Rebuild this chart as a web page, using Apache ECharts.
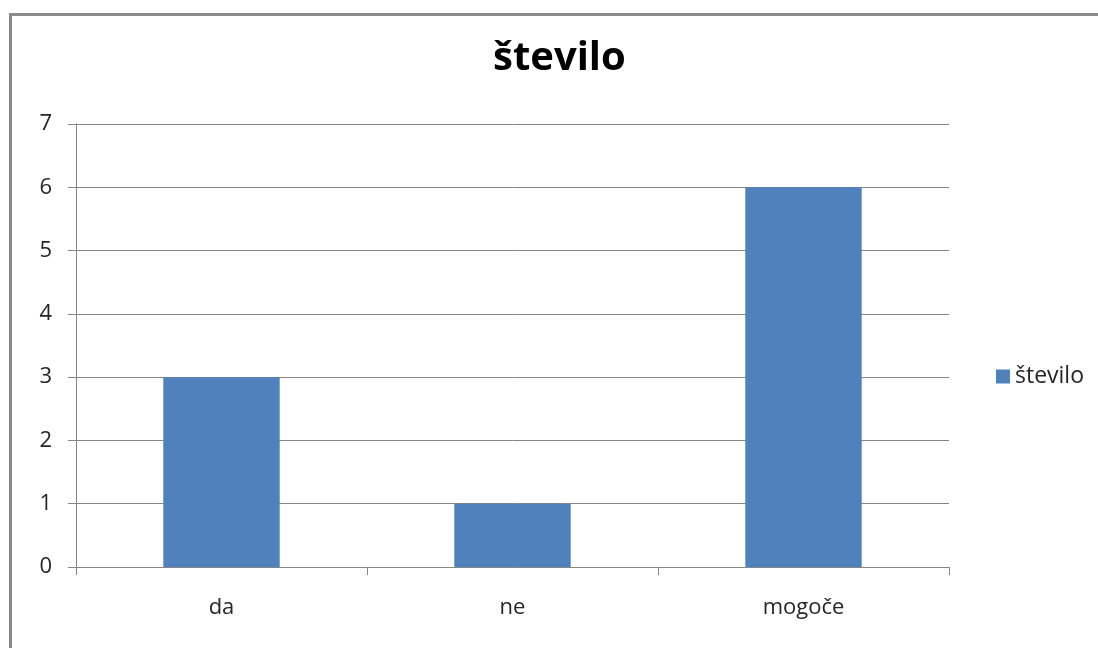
<!DOCTYPE html>
<html>
<head>
<meta charset="utf-8">
<script src="https://cdn.jsdelivr.net/npm/echarts@6/dist/echarts.min.js"></script>
<style>
  html, body { margin: 0; padding: 0; background: #fff; }
  #chart { width: 1098px; height: 648px; }
</style>
</head>
<body>
<div id="chart"></div>
<script>
// Chart content
const title = 'število';
const seriesName = 'število';
const categories = ['da', 'ne', 'mogoče'];
const values = [3, 1, 6];
const yMin = 0;
const yMax = 7;
const yStep = 1;

const font = '"Open Sans", Lato, sans-serif';
const labelColor = '#262626';
const chart = echarts.init(document.getElementById('chart'), null, { renderer: 'canvas' });

chart.setOption({
  backgroundColor: '#ffffff',
  animation: false,
  graphic: [{
    type: 'rect',
    left: 8,
    top: 12,
    shape: { width: 1200, height: 700 },
    style: { fill: 'none', stroke: '#8a8a8a', lineWidth: 3 },
    z: 0
  }],
  title: {
    text: title,
    left: 493,
    top: 39,
    padding: 0,
    textStyle: { fontFamily: font, fontSize: 40, fontWeight: 'bold', color: '#000' }
  },
  legend: {
    data: [seriesName],
    left: 991,
    top: 360,
    itemWidth: 14,
    itemHeight: 14,
    itemGap: 7,
    icon: 'rect',
    textStyle: { fontFamily: font, fontSize: 23, color: labelColor }
  },
  grid: { left: 76, right: 149, top: 124, bottom: 81, containLabel: false },
  xAxis: {
    type: 'category',
    data: categories,
    boundaryGap: true,
    axisLine: { lineStyle: { color: '#868686', width: 1 } },
    axisTick: { show: true, length: 8, alignWithLabel: false, lineStyle: { color: '#868686' } },
    axisLabel: { margin: 30, fontFamily: font, fontSize: 22, color: labelColor }
  },
  yAxis: {
    type: 'value',
    min: yMin,
    max: yMax,
    interval: yStep,
    axisLine: { show: true, lineStyle: { color: '#868686', width: 1 } },
    axisTick: { show: true, length: 8, lineStyle: { color: '#868686' } },
    axisLabel: { margin: 24, fontFamily: font, fontSize: 22, color: labelColor },
    splitLine: { show: true, lineStyle: { color: '#868686', width: 1 } }
  },
  series: [{
    name: seriesName,
    type: 'bar',
    data: values,
    barWidth: '40%',
    itemStyle: { color: '#4f81bd' }
  }]
});
</script>
</body>
</html>
